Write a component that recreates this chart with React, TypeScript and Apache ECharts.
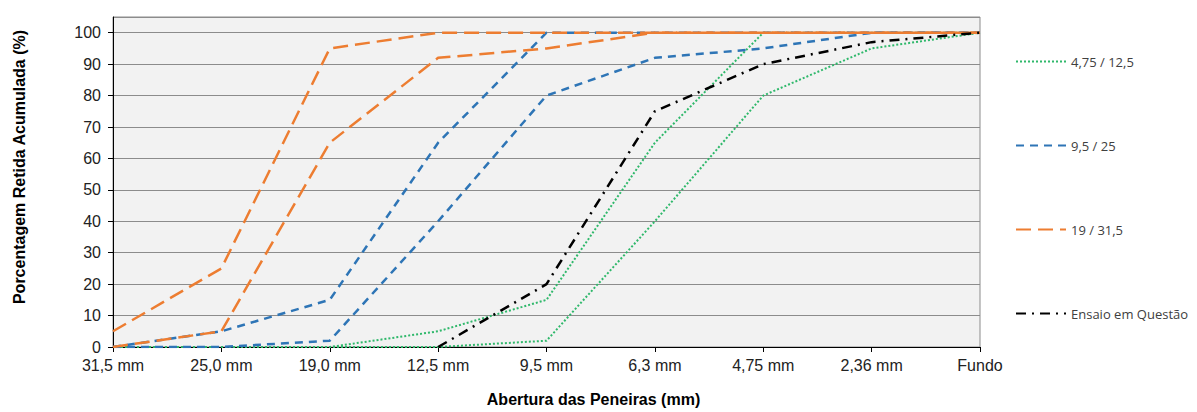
import React, { useEffect, useRef } from "react";
import * as echarts from "echarts";

const categories = ["31,5 mm", "25,0 mm", "19,0 mm", "12,5 mm", "9,5 mm", "6,3 mm", "4,75 mm", "2,36 mm", "Fundo"];
const greenUpper = [0, 0, 0, 5, 15, 65, 100, 100, 100];
const greenLower = [0, 0, 0, 0, 2, 40, 80, 95, 100];
const blueUpper = [0, 5, 15, 65, 100, 100, 100, 100, 100];
const blueLower = [0, 0, 2, 40, 80, 92, 95, 100, 100];
const orangeUpper = [5, 25, 95, 100, 100, 100, 100, 100, 100];
const orangeLower = [0, 5, 65, 92, 95, 100, 100, 100, 100];
const ensaio = [null, null, null, 0, 20, 75, 90, 97, 100];
const legendNames = ["4,75 / 12,5", "9,5 / 25", "19 / 31,5", "Ensaio em Questão"];

export default function App() {
  const ref = useRef<HTMLDivElement>(null);
  useEffect(() => {
    if (!ref.current) return;
    const chart = echarts.init(ref.current, null, { renderer: "svg" });
    const green = "#2fb86b";
    const blue = "#2e75b6";
    const orange = "#ed7d31";
    const mk = (name: string, data: any[], color: string, type: any, width: number, z: number) => ({
      name,
      type: "line",
      data,
      symbol: "none",
      showSymbol: false,
      color,
      z,
      lineStyle: { color, type, width, cap: "butt" },
      itemStyle: { color },
    });
    chart.setOption({
      animation: false,
      backgroundColor: "#ffffff",
      grid: {
        left: 113,
        right: 217,
        top: 17,
        bottom: 63,
        show: true,
        backgroundColor: "#f2f2f2",
        borderColor: "#8c8c8c",
        borderWidth: 1,
      },
      legend: {
        orient: "vertical",
        left: 1010,
        top: 50,
        itemWidth: 50,
        itemHeight: 12,
        itemGap: 71,
        data: legendNames,
        itemStyle: { color: "rgba(0,0,0,0)", borderWidth: 0, opacity: 0 },
        textStyle: { fontFamily: "Open Sans", fontSize: 13, color: "#404040" },
      },
      xAxis: {
        type: "category",
        data: categories,
        boundaryGap: false,
        name: "Abertura das Peneiras (mm)",
        nameLocation: "middle",
        nameGap: 44,
        nameTextStyle: {
          fontFamily: "Liberation Sans",
          fontWeight: "bold",
          fontSize: 16,
          color: "#000",
          padding: [0, 0, 0, 94],
        },
        axisLine: { lineStyle: { color: "#000", width: 1 } },
        axisTick: { show: true, length: 5, lineStyle: { color: "#000" }, alignWithLabel: true },
        axisLabel: { fontFamily: "Liberation Sans", fontSize: 16, color: "#222", margin: 10 },
        splitLine: { show: false },
      },
      yAxis: {
        type: "value",
        min: 0,
        max: 105,
        interval: 10,
        name: "Porcentagem Retida Acumulada (%)",
        nameLocation: "middle",
        nameGap: 86,
        nameRotate: 90,
        nameTextStyle: {
          fontFamily: "Liberation Sans",
          fontWeight: "bold",
          fontSize: 16,
          color: "#000",
          padding: [0, 0, 0, 30],
        },
        axisLine: { show: true, lineStyle: { color: "#000", width: 1 } },
        axisTick: { show: true, length: 5, lineStyle: { color: "#000" } },
        axisLabel: { fontFamily: "Liberation Sans", fontSize: 16, color: "#222", margin: 12, showMaxLabel: false },
        splitLine: { show: true, lineStyle: { color: "#8c8c8c", width: 1 } },
      },
      series: [
        mk("4,75 / 12,5", greenUpper, green, [2, 2], 2, 3),
        mk("4,75 / 12,5", greenLower, green, [2, 2], 2, 3),
        mk("9,5 / 25", blueUpper, blue, [8, 6], 2.5, 4),
        mk("9,5 / 25", blueLower, blue, [8, 6], 2.5, 4),
        mk("19 / 31,5", orangeUpper, orange, [15, 7], 2.5, 5),
        mk("19 / 31,5", orangeLower, orange, [15, 7], 2.5, 5),
        mk("Ensaio em Questão", ensaio, "#000000", [10, 6, 2, 6], 2.5, 6),
      ],
    });
    return () => chart.dispose();
  }, []);
  return (
    <div
      ref={ref}
      style={{ position: "fixed", left: 0, top: 0, width: 1197, height: 412, background: "#fff" }}
    />
  );
}
